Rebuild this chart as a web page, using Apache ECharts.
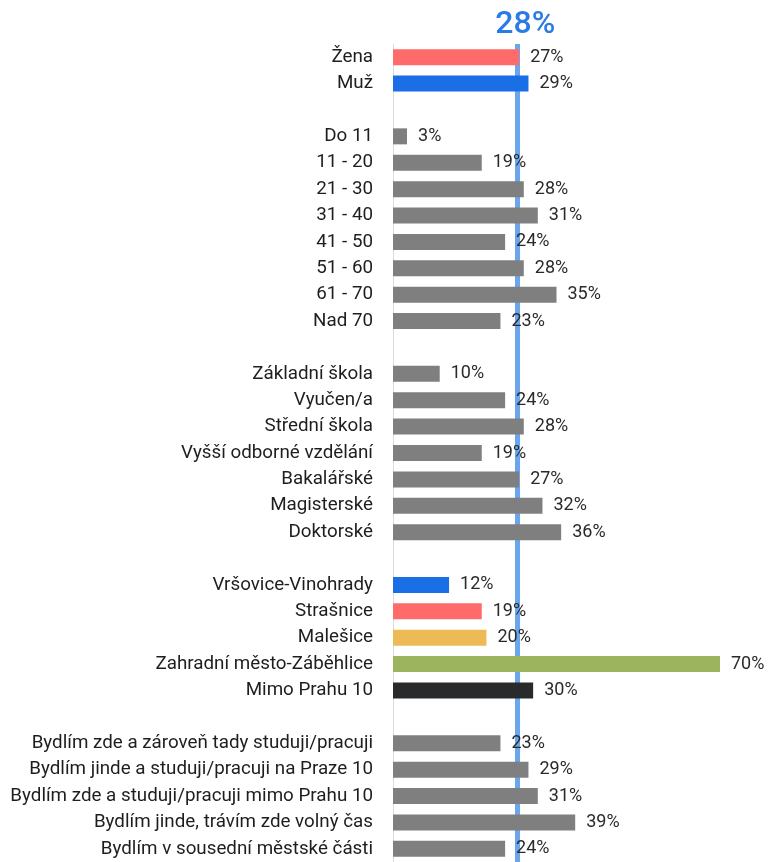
<!DOCTYPE html>
<html>
<head>
<meta charset="utf-8">
<script src="https://cdn.jsdelivr.net/npm/echarts@6/dist/echarts.min.js"></script>
<style>
  html, body { margin: 0; padding: 0; background: #fff; }
  #chart { width: 769px; height: 862px; }
</style>
</head>
<body>
<div id="chart"></div>
<script>
// rows, '' = spacer between groups
var categories = [
    'Žena', 'Muž', '',
    'Do 11', '11 - 20', '21 - 30', '31 - 40', '41 - 50', '51 - 60', '61 - 70', 'Nad 70', '',
    'Základní škola', 'Vyučen/a', 'Střední škola', 'Vyšší odborné vzdělání', 'Bakalářské', 'Magisterské', 'Doktorské', '',
    'Vršovice-Vinohrady', 'Strašnice', 'Malešice', 'Zahradní město-Záběhlice', 'Mimo Prahu 10', '',
    'Bydlím zde a zároveň tady studuji/pracuji', 'Bydlím jinde a studuji/pracuji na Praze 10',
    'Bydlím zde a studuji/pracuji mimo Prahu 10', 'Bydlím jinde, trávím zde volný čas', 'Bydlím v sousední městské části'
];
var values = [
    27, 29, '-',
    3, 19, 28, 31, 24, 28, 35, 23, '-',
    10, 24, 28, 19, 27, 32, 36, '-',
    12, 19, 20, 70, 30, '-',
    23, 29, 31, 39, 24
];
var avgLabel = '28%';
var avgPos = 26.6;   // where the line sits in the picture

var specialColors = {
    'Žena': '#ff6b6b',
    'Muž': '#1a6fe6',
    'Vršovice-Vinohrady': '#1a6fe6',
    'Strašnice': '#ff6b6b',
    'Malešice': '#ecbb55',
    'Zahradní město-Záběhlice': '#9db45f',
    'Mimo Prahu 10': '#282a2b'
};

var chart = echarts.init(document.getElementById('chart'));
var barData = [];
for (var i = 0; i < values.length; i++) {
    barData.push({
        value: values[i],
        itemStyle: { color: specialColors[categories[i]] || '#7f7f7f' }
    });
}

var option = {
    animation: false,
    grid: { left: 393, right: 49, top: 44, height: 822 },
    xAxis: {
        type: 'value',
        min: 0,
        max: 70,
        show: false
    },
    yAxis: {
        type: 'category',
        inverse: true,
        data: categories,
        axisLine: { show: true, lineStyle: { color: '#dcdcdc', width: 1 } },
        axisTick: { show: false },
        axisLabel: {
            margin: 20,
            fontFamily: 'Roboto',
            fontSize: 18.8,
            color: '#1e1e1e'
        }
    },
    series: [{
        type: 'bar',
        z: 3,
        data: barData,
        barWidth: 16,
        label: {
            show: true,
            position: 'right',
            distance: 11,
            formatter: '{c}%',
            fontFamily: 'Roboto',
            fontSize: 18,
            color: '#2a2a2a'
        },
        markLine: {
            z: 1,
            symbol: 'none',
            silent: true,
            lineStyle: { color: '#6aa6ee', width: 5, type: 'solid' },
            label: {
                show: true,
                position: 'start',
                formatter: avgLabel,
                distance: 3,
                offset: [8, 0],
                fontFamily: 'Roboto',
                fontSize: 32,
                fontWeight: 500,
                color: '#2a7be4'
            },
            data: [{ xAxis: avgPos }]
        }
    }]
};
chart.setOption(option);
</script>
</body>
</html>
